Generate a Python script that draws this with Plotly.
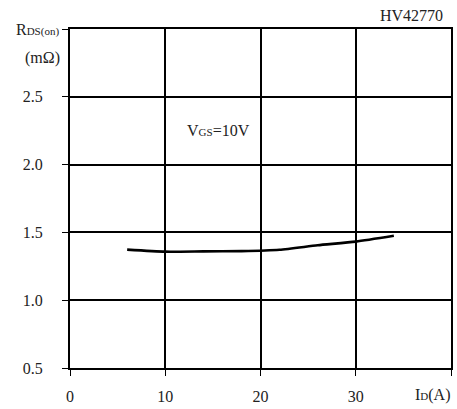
import plotly.graph_objects as go

id_a = [6, 10, 14, 18, 22, 26, 30, 34]
rds_on = [1.373, 1.358, 1.360, 1.362, 1.372, 1.405, 1.432, 1.475]

x_ticks = [0, 10, 20, 30, 40]
x_labels = ["0", "10", "20", "30", ""]
y_ticks = [0.5, 1.0, 1.5, 2.0, 2.5, 3.0]
y_labels = ["0.5", "1.0", "1.5", "2.0", "2.5", ""]

FONT = "Liberation Serif"

fig = go.Figure()
fig.add_trace(go.Scatter(x=id_a, y=rds_on, mode="lines",
                         line=dict(color="black", width=2.6, shape="spline", smoothing=0.6),
                         showlegend=False, hoverinfo="skip"))

axis_common = dict(showgrid=True, gridcolor="black", gridwidth=1.6,
                   showline=True, linecolor="black", linewidth=2, mirror=True,
                   ticks="outside", ticklen=6, tickwidth=1.2, tickcolor="black",
                   zeroline=False, tickfont=dict(family=FONT, size=16, color="#222"))

fig.update_xaxes(range=[0, 40], tickmode="array", tickvals=x_ticks, ticktext=x_labels,
                 ticklabelstandoff=7, **axis_common)
fig.update_yaxes(range=[0.5, 3.0], tickmode="array", tickvals=y_ticks, ticktext=y_labels,
                 ticklabelstandoff=16, **axis_common)

ann_font = dict(family=FONT, size=16, color="#222")
common = dict(showarrow=False, yanchor="middle", font=ann_font)
fig.add_annotation(x=-0.0235, y=1.0, xref="paper", yref="paper", xanchor="right",
                   text="R<span style='font-size:11px'>DS(on)</span>", **common)
fig.add_annotation(x=-0.0731, y=0.9152, xref="paper", yref="paper", xanchor="center",
                   text="(mΩ)", **common)
fig.add_annotation(x=0.8969, y=1.041, xref="paper", yref="paper", xanchor="center",
                   text="HV42770", **common)
fig.add_annotation(x=15.6, y=2.254, xref="x", yref="y", xanchor="center",
                   text="V<span style='font-size:11px'>GS</span>=10V", **common)
fig.add_annotation(x=0.953, y=-0.0789, xref="paper", yref="paper", xanchor="center",
                   text="I<span style='font-size:11px'>D</span>(A)", **common)

fig.update_layout(width=457, height=409, margin=dict(l=70, r=4, t=29, b=38),
                  paper_bgcolor="white", plot_bgcolor="white")

fig.write_html("out.html", config={"displayModeBar": False},
               post_script="document.body.style.margin='0';document.body.style.overflow='hidden';")
